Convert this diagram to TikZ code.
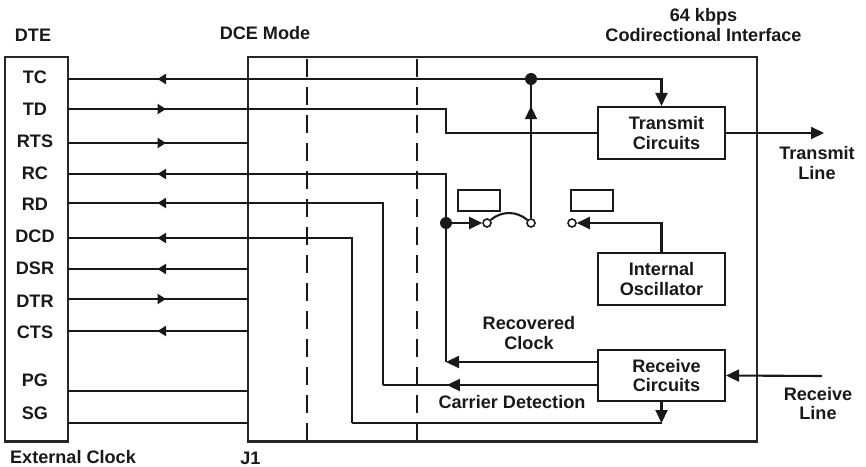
\documentclass[tikz,border=0pt]{standalone}
\usepackage{fontspec}
\setmainfont{Liberation Sans}
\usetikzlibrary{arrows.meta,decorations.markings}
\tikzset{
  every node/.style={font=\bfseries\fontsize{10.3}{11.2}\selectfont,text=black!90,align=center},
  wire/.style={line width=1.2pt,black!90},
  split/.style={line width=1.3pt,black!90,dash pattern=on 0.36cm off 0.2cm},
  frame/.style={draw=black!85,line width=1.2pt,minimum height=7.69cm,inner sep=0pt},
  box/.style={draw=black!90,line width=1.2pt,minimum width=2.54cm,minimum height=1.04cm,inner sep=0pt},
  flag/.style={draw=black!90,line width=1.2pt,minimum width=0.84cm,minimum height=0.42cm,inner sep=0pt},
  contact/.style={circle,draw=black!90,fill=white,line width=0.9pt,minimum size=0.16cm,inner sep=0pt},
  junction/.style={circle,fill=black!90,minimum size=0.24cm,inner sep=0pt},
  bigtip/.style={-{Triangle[length=0.26cm,width=0.24cm]}},
  goright/.style={postaction={decorate},decoration={markings,
    mark=at position 1.96cm with {\arrow{Triangle[length=0.17cm,width=0.2cm]}}}},
  goleft/.style={postaction={decorate},decoration={markings,
    mark=at position 1.96cm with {\arrow{Triangle[reversed,length=0.17cm,width=0.2cm]}}}},
  bigmid/.style={postaction={decorate},decoration={markings,
    mark=at position #1 with {\arrow{Triangle[length=0.26cm,width=0.24cm]}}}}
}

\begin{document}
\begin{tikzpicture}
  \useasboundingbox (0,0) rectangle (17.32,9.32);

  % frames
  \node[frame,minimum width=1.26cm] (dte) at (0.73,4.335) {};
  \node[frame,minimum width=10.18cm] (dce) at (10.05,4.335) {};
  \draw[split] (6.14,8.14) -- (6.14,0.49);
  \draw[split] (8.34,8.14) -- (8.34,0.49);

  % circuits
  \node[box,label={[xshift=0.1cm]center:Transmit\\Circuits}] (tx) at (13.23,6.66) {};
  \node[box] (osc) at (13.23,3.74) {Internal\\Oscillator};
  \node[box,minimum height=1.02cm,label={[xshift=0.1cm]center:Receive\\Circuits}] (rx) at (13.23,1.81) {};
  \node[flag] (flaga) at (9.58,5.31) {};
  \node[flag] (flagb) at (11.84,5.31) {};

  % switch
  \node[junction] (clk) at (8.92,4.86) {};
  \node[junction] (top) at (10.62,7.74) {};
  \node[contact] (swa) at (9.74,4.86) {};
  \node[contact] (swb) at (10.62,4.86) {};
  \node[contact] (swc) at (11.44,4.86) {};
  \draw[wire] (swa) to[out=40,in=140] (swb);
  \draw[wire,bigtip] (clk) -- (swa);
  \draw[wire,bigmid=2.24cm] (swb) -- (top);
  \draw[wire,bigtip] (osc.north) |- (swc);

  % ends of the wires
  \coordinate (tdk) at (8.92,7.14);
  \coordinate (rck) at (8.92,2.08);
  \coordinate (rdk) at (7.66,1.62);
  \coordinate (cdk) at (7.04,0.86);
  \coordinate (txo) at (16.48,6.66);
  \coordinate (rxi) at (16.44,1.8);

  % interface lines
  \draw[wire,goleft] (1.36,7.74) -- (top);
  \draw[wire,bigtip] (top) -| (tx.north);
  \draw[wire,goright] (1.36,7.14) -- (tdk) |- (tx.west);
  \draw[wire,goright] (1.36,6.46) -- (4.96,6.46);
  \draw[wire,goleft] (1.36,5.84) -| (clk);
  \draw[wire,goleft] (1.36,5.26) -| (rdk);
  \draw[wire,goleft] (1.36,4.56) -| (cdk);
  \draw[wire,goleft] (1.36,3.94) -- (4.96,3.94);
  \draw[wire,goright] (1.36,3.34) -- (4.96,3.34);
  \draw[wire,goleft] (1.36,2.70) -- (4.96,2.70);
  \draw[wire] (1.36,1.50) -- (4.96,1.50);
  \draw[wire] (1.36,0.86) -- (4.96,0.86);

  % from and to the circuits
  \draw[wire] (clk) -- (rck);
  \draw[wire,bigtip] (rx.west |- rck) -- (rck);
  \draw[wire,bigmid=3cm] (rx.west |- rdk) -- (rdk);
  \draw[wire] (cdk) -- (rx.south |- cdk);
  \draw[wire,bigtip] (rx.south) -- (rx.south |- cdk);
  \draw[wire,bigtip] (tx.east) -- (txo);
  \draw[wire,bigtip] (rxi) -- (rx.east);

  % pin names
  \foreach \pin/\ypin in {TC/7.78,TD/7.14,RTS/6.50,RC/5.86,RD/5.24,DCD/4.60,DSR/3.96,DTR/3.30,CTS/2.68,PG/1.72,SG/1.06}
    \node (pin\pin) at (0.70,\ypin) {\pin};

  % labels
  \node (dtelabel) at (0.66,8.62) {DTE};
  \node (modelabel) at (5.30,8.66) {DCE Mode};
  \node (ifacelabel) at (14.07,8.82) {64 kbps\\Codirectional Interface};
  \node (extlabel) at (1.46,0.18) {External Clock};
  \node (jlabel) at (5.01,0.16) {J1};
  \node (txlabel) at (16.34,6.06) {Transmit\\Line};
  \node (rxlabel) at (16.36,1.25) {Receive\\Line};
  \node (reclabel) at (10.58,2.66) {Recovered\\Clock};
  \node (cdlabel) at (10.24,1.28) {Carrier Detection};
\end{tikzpicture}
\end{document}
